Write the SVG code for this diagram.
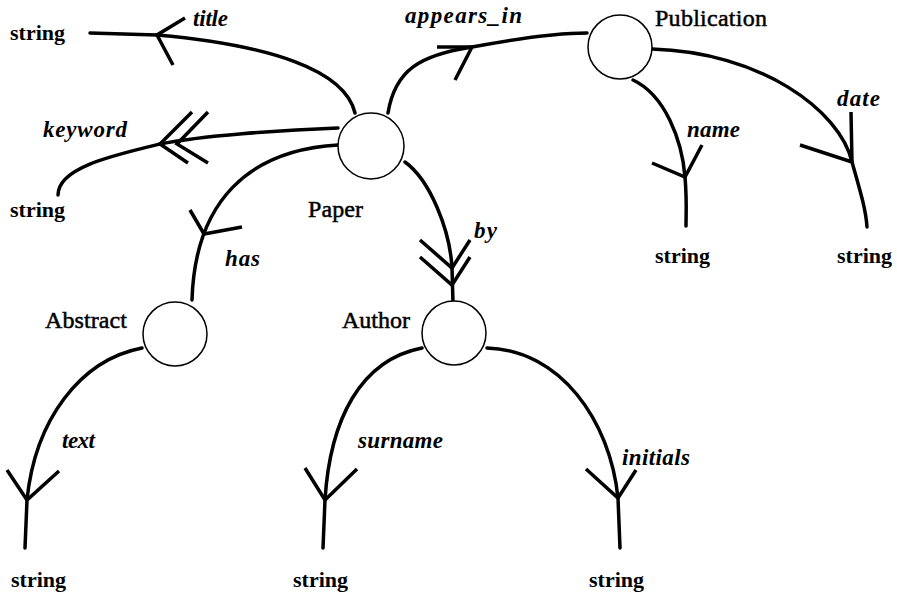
<svg xmlns="http://www.w3.org/2000/svg" width="897" height="595" viewBox="0 0 897 595">
  <style>
    .node { fill: #fff; stroke: #000; stroke-width: 1.5; }
    .edge { fill: none; stroke: #000; stroke-width: 3.5; stroke-linecap: round; stroke-linejoin: round; }
    .head { fill: none; stroke: #000; stroke-width: 3.5; stroke-linecap: butt; stroke-linejoin: miter; }
    .type { font-family: "Liberation Serif", "Times New Roman", serif; font-weight: bold; font-size: 22px; fill: #000; }
    .name { font-family: "Liberation Serif", "Times New Roman", serif; font-size: 24px; fill: #000; stroke: #000; stroke-width: 0.5; }
    .role { font-family: "Liberation Serif", "Times New Roman", serif; font-weight: bold; font-style: italic; font-size: 23px; fill: #000; }
  </style>
  <rect width="897" height="595" fill="#fff"/>

  <!-- connectors -->
  <g id="connectors">
    <!-- title -->
    <path class="edge" d="M355,113 C345,70 270,45 157,35 L90,33"/>
    <path class="head" d="M185,18 L157,35 L173,65"/>
    <!-- keyword (multi-valued) -->
    <path class="edge" d="M338,128 C280,130 200,136 160,144 C110,156 58,168 58,195"/>
    <path class="head" d="M192,112 L160,144 L188,163"/>
    <path class="head" d="M208,112 L177,144 L208,163"/>
    <!-- has -->
    <path class="edge" d="M338,145 C250,150 195,200 192,300"/>
    <path class="head" d="M190,210 L204,234 L242,227"/>
    <!-- appears_in -->
    <path class="edge" d="M388,113 C395,70 420,55 472,47 C520,38 560,33 587,33"/>
    <path class="head" d="M437,47 L472,47 L455,80"/>
    <!-- name -->
    <path class="edge" d="M633,80 C665,95 682,140 685,177 C687,200 686,215 686,226"/>
    <path class="head" d="M652,163 L685,177 L702,145"/>
    <!-- date -->
    <path class="edge" d="M652,49 C760,52 840,110 852,162 C860,190 866,210 867,227"/>
    <path class="head" d="M851,112 L852,162 L800,145"/>
    <!-- by (multi-valued) -->
    <path class="edge" d="M405,162 C430,180 450,230 452,268 L453,303"/>
    <path class="head" d="M420,240 L452,268 L470,240"/>
    <path class="head" d="M420,257 L452,285 L470,257"/>
    <!-- text -->
    <path class="edge" d="M142,348 C80,360 35,420 27,500 L25,548"/>
    <path class="head" d="M7,470 L27,500 L59,471"/>
    <!-- surname -->
    <path class="edge" d="M422,348 C360,360 330,420 325,500 L323,548"/>
    <path class="head" d="M305,468 L325,500 L357,469"/>
    <!-- initials -->
    <path class="edge" d="M487,348 C560,350 610,420 618,498 L620,548"/>
    <path class="head" d="M586,469 L618,498 L636,470"/>
  </g>

  <!-- edge labels -->
  <g id="roles">
    <text class="role" x="193" y="26" textLength="35">title</text>
    <text class="role" x="43" y="137" textLength="84">keyword</text>
    <text class="role" x="225" y="266" textLength="35">has</text>
    <text class="role" x="405" y="23" textLength="117">appears_in</text>
    <text class="role" x="687" y="137" textLength="53">name</text>
    <text class="role" x="837" y="106" textLength="43">date</text>
    <text class="role" x="474" y="238" textLength="23">by</text>
    <text class="role" x="62" y="448" textLength="33">text</text>
    <text class="role" x="358" y="448" textLength="85">surname</text>
    <text class="role" x="622" y="465" textLength="68">initials</text>
  </g>

  <!-- nodes -->
  <g id="paper">
    <circle class="node" cx="371" cy="146" r="33"/>
    <text class="name" x="308" y="217" textLength="55">Paper</text>
  </g>
  <g id="publication">
    <circle class="node" cx="620" cy="47" r="32"/>
    <text class="name" x="655" y="26" textLength="112">Publication</text>
  </g>
  <g id="abstract">
    <circle class="node" cx="175" cy="334" r="32"/>
    <text class="name" x="45" y="328" textLength="82">Abstract</text>
  </g>
  <g id="author">
    <circle class="node" cx="454" cy="333" r="32"/>
    <text class="name" x="342" y="328" textLength="68">Author</text>
  </g>

  <!-- value types -->
  <g id="string-title"><text class="type" x="10" y="40" textLength="55">string</text></g>
  <g id="string-keyword"><text class="type" x="10" y="217" textLength="55">string</text></g>
  <g id="string-name"><text class="type" x="655" y="263" textLength="55">string</text></g>
  <g id="string-date"><text class="type" x="837" y="263" textLength="55">string</text></g>
  <g id="string-text"><text class="type" x="11" y="587" textLength="55">string</text></g>
  <g id="string-surname"><text class="type" x="293" y="587" textLength="55">string</text></g>
  <g id="string-initials"><text class="type" x="589" y="587" textLength="55">string</text></g>
</svg>
